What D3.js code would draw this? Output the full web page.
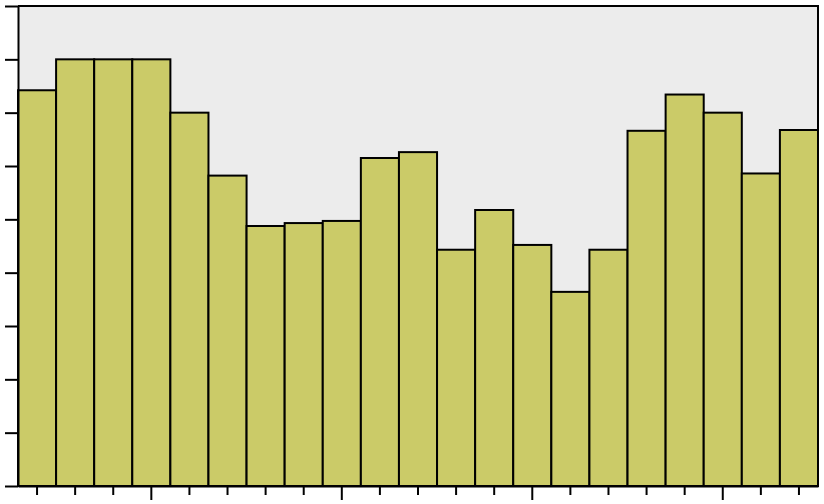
<!DOCTYPE html>
<html>
<head>
<meta charset="utf-8">
<script src="https://cdn.jsdelivr.net/npm/d3@7"></script>
<style>
  html, body { margin: 0; padding: 0; background: #fff; }
  svg { display: block; }
</style>
</head>
<body>
<div class="container"></div>
<script>
// bar categories (no labels shown on the chart)
const categories = d3.range(1, 22).map(String)
const values = [7.42, 8.0, 8.0, 8.0, 7.0, 5.82, 4.875, 4.93, 4.97, 6.15, 6.26,
                4.43, 5.175, 4.52, 3.64, 4.43, 6.66, 7.34, 7.0, 5.86, 6.675]
const yTicks = d3.range(0, 10)
const majorIdx = [3, 8, 13, 18]

const w = 824
const h = 504
const padL = 18, padR = 818, padT = 6, padB = 486

const svg = d3.select(".container")
    .append("svg")
    .attr("width", w)
    .attr("height", h)

const x = d3.scaleBand()
    .domain(categories)
    .range([padL, padR])
    .padding(0)

const y = d3.scaleLinear()
    .domain([0, 9])
    .range([padB, padT])

// plot background
svg.append("rect")
    .attr("x", padL)
    .attr("y", padT)
    .attr("width", padR - padL)
    .attr("height", padB - padT)
    .attr("fill", "#ececec")

svg.selectAll("rect.bar")
    .data(values)
    .enter()
    .append("rect")
    .attr("class", "bar")
    .attr("x", (d, i) => x(categories[i]))
    .attr("width", x.bandwidth())
    .attr("y", d => y(d))
    .attr("height", d => padB - y(d))
    .attr("fill", "#cbcb68")
    .attr("stroke", "#000")
    .attr("stroke-width", 2)

// frame top + right
svg.append("path")
    .attr("d", `M${padL},${padT}H${padR}V${padB}`)
    .attr("fill", "none")
    .attr("stroke", "#000")
    .attr("stroke-width", 2)

const yAxis = d3.axisLeft(y)
    .tickValues(yTicks)
    .tickSize(13)
    .tickSizeOuter(0)
    .tickFormat("")

svg.append("g")
    .attr("transform", `translate(${padL},0)`)
    .call(yAxis)

const xAxis = d3.axisBottom(x)
    .tickSize(9)
    .tickSizeOuter(0)
    .tickFormat("")

const gx = svg.append("g")
    .attr("transform", `translate(0,${padB})`)
    .call(xAxis)

gx.selectAll(".tick line")
    .attr("y2", (d, i) => majorIdx.includes(i) ? 14 : 9)

svg.selectAll(".domain, .tick line")
    .attr("stroke", "#000")
    .attr("stroke-width", 2)
</script>
</body>
</html>
